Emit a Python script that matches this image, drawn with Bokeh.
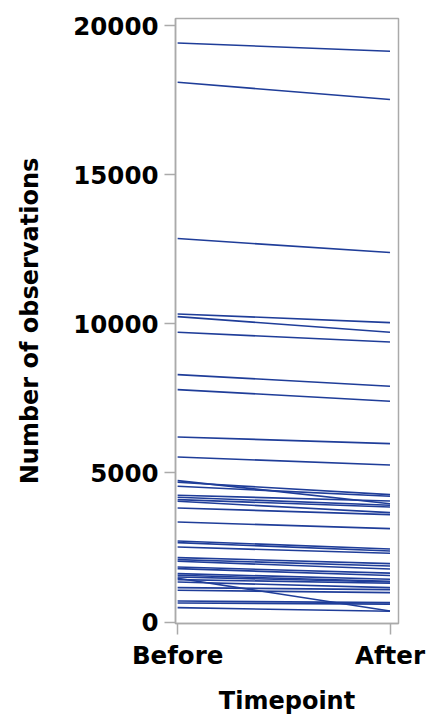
from bokeh.plotting import figure
from bokeh.models import Range1d, FixedTicker
from bokeh.embed import file_html
from bokeh.resources import INLINE

timepoints = ["Before", "After"]
before = [19430, 18111, 12866, 10336, 10248, 9721, 8302, 7799, 6208, 5537,
          4745, 4688, 4554, 4252, 4185, 4107, 4050, 3826, 3356,
          2718, 2664, 2517, 2161, 2094, 2037, 1846, 1792, 1624, 1567, 1510,
          1466, 1423, 1342, 1154, 1064, 705, 638, 483]
after = [19151, 17530, 12396, 10047, 9721, 9396, 7909, 7406, 5987, 5268,
         3970, 4275, 4218, 4060, 3916, 3859, 3671, 3604, 3134,
         2450, 2383, 2305, 1960, 1879, 1779, 1640, 1560, 1433, 1366, 1342,
         370, 1300, 1154, 1087, 987, 651, 600, 359]
y_ticks = [0, 5000, 10000, 15000, 20000]

xs = [[0, 1] for _ in before]
ys = [[b, a] for b, a in zip(before, after)]

p = figure(width=429, height=719, output_backend="svg", toolbar_location=None,
           x_range=Range1d(-0.01, 1.04), y_range=Range1d(-50, 20250),
           min_border_left=175, min_border_right=31, min_border_top=18,
           min_border_bottom=96)
p.multi_line(xs, ys, line_color="#1f3d99", line_width=1.6)

p.xgrid.visible = False
p.ygrid.visible = False
p.outline_line_color = "#aaaaaa"
p.outline_line_width = 1.5

font = "DejaVu Sans"
for ax in (p.xaxis[0], p.yaxis[0]):
    ax.axis_line_color = "#aaaaaa"
    ax.axis_line_width = 1.5
    ax.major_tick_line_color = "#aaaaaa"
    ax.major_tick_line_width = 1.5
    ax.major_tick_out = 11
    ax.major_tick_in = 0
    ax.minor_tick_line_color = None
    ax.major_label_text_font = font
    ax.major_label_text_font_style = "bold"
    ax.major_label_text_font_size = "24.5px"
    ax.major_label_text_color = "black"
    ax.axis_label_text_font = font
    ax.axis_label_text_font_style = "bold"
    ax.axis_label_text_font_size = "24px"
    ax.axis_label_text_color = "black"

p.xaxis.ticker = FixedTicker(ticks=[0, 1])
p.xaxis.major_label_overrides = {0: timepoints[0], 1: timepoints[1]}
p.xaxis.axis_label = "Timepoint"
p.xaxis.major_label_standoff = 6
p.xaxis.axis_label_standoff = 14

p.yaxis.ticker = FixedTicker(ticks=y_ticks)
p.yaxis.axis_label = "Number of observations"
p.yaxis.major_label_standoff = 6
p.yaxis.axis_label_standoff = 26

open("out.html", "w").write(file_html(p, INLINE))
